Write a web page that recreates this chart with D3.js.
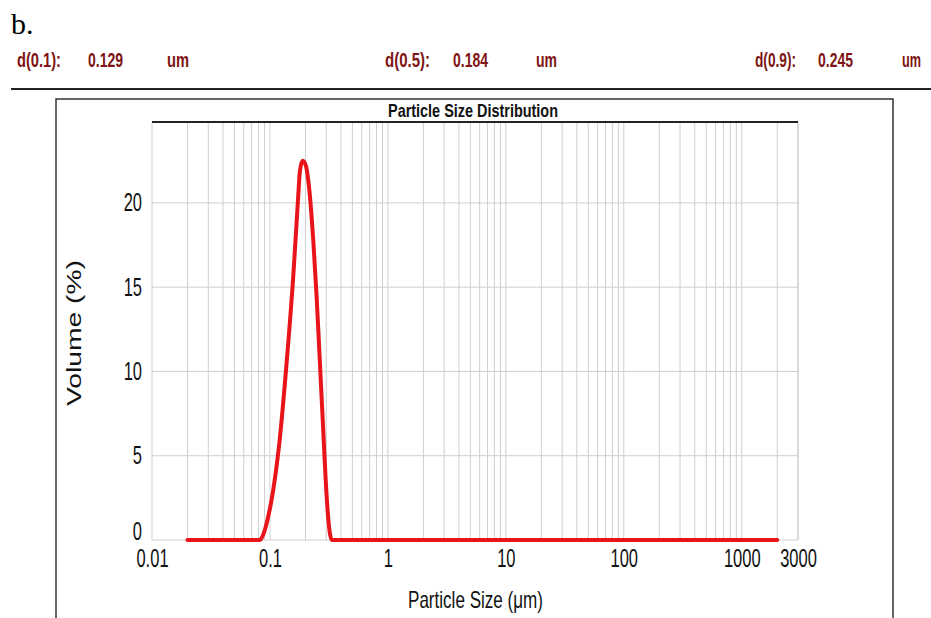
<!DOCTYPE html>
<html>
<head>
<meta charset="utf-8">
<script src="https://cdn.jsdelivr.net/npm/d3@7"></script>
<style>
  html, body { margin: 0; padding: 0; background: #fff; }
  svg { display: block; }
  text { font-family: "Liberation Sans", Arial, sans-serif; }
</style>
</head>
<body>
<svg id="chart" width="931" height="618"></svg>
<script>
// ---- data ----
const sizes   = [0.02, 0.0823, 0.0875, 0.0938, 0.1066, 0.1216, 0.1384, 0.1575, 0.1737, 0.1796, 0.1893, 0.2018, 0.2113, 0.2329, 0.2489, 0.2653, 0.2831, 0.3025, 0.3222, 0.335, 2000];
const volumes = [0,    0,      0.3,    1.0,    2.97,   6.1,    10.5,   15.6,   20.4,   21.9,   22.5,   22.2,   21.35,  17.8,   14.4,   10.5,   6.5,    2.6,    0.4,    0,     0];
const xTicks = [0.01, 0.1, 1, 10, 100, 1000, 3000];
const xTickLabels = ["0.01", "0.1", "1", "10", "100", "1000", "3000"];
const yTicks = [0, 5, 10, 15, 20];
const headerLabels = ["d(0.1):", "d(0.5):", "d(0.9):"];
const headerValues = ["0.129", "0.184", "0.245"];
const headerUnit = "um";
const panelLabel = "b.";
const title = "Particle Size Distribution";
const xTitle = "Particle Size (μm)";
const yTitle = "Volume (%)";

// ---- layout ----
const svg = d3.select("#chart");
const L = 152, R = 798, T = 122, B = 540;
const x = d3.scaleLog().domain([0.01, 3000]).range([L, R]);
const y = d3.scaleLinear().domain([0, 24.8]).range([B, T]);
const hdrColor = "#7e1414";

// panel label
svg.append("text").attr("x", 11).attr("y", 34)
  .style("font-family", "'Liberation Serif', 'Times New Roman', serif")
  .style("font-size", "30px").attr("fill", "#000").text(panelLabel);

// header row
const hdrPos = [
  {lx: 17, lw: 44, vx: 88, vw: 35, ux: 167, uw: 22},
  {lx: 385, lw: 45, vx: 453, vw: 35, ux: 536, uw: 21},
  {lx: 755, lw: 41, vx: 818, vw: 35, ux: 902, uw: 19}
];
hdrPos.forEach((p, i) => {
  const items = [[p.lx, p.lw, headerLabels[i]], [p.vx, p.vw, headerValues[i]], [p.ux, p.uw, headerUnit]];
  items.forEach(([xx, w, t]) => {
    svg.append("text").attr("x", xx).attr("y", 67)
      .attr("textLength", w).attr("lengthAdjust", "spacingAndGlyphs")
      .style("font-size", "20px").style("font-weight", "bold")
      .attr("fill", hdrColor).text(t);
  });
});
svg.append("line").attr("x1", 11).attr("x2", 931).attr("y1", 89).attr("y2", 89)
  .attr("stroke", "#222").attr("stroke-width", 2);

// outer frame
svg.append("rect").attr("x", 56).attr("y", 99).attr("width", 837).attr("height", 540)
  .attr("fill", "none").attr("stroke", "#333").attr("stroke-width", 1.5);

// grid: vertical
const vgrid = [];
for (let e = -2; e <= 3; e++) for (let m = 1; m <= 9; m++) {
  const v = m * Math.pow(10, e);
  if (v <= 3000) vgrid.push(v);
}
svg.append("g").selectAll("line").data(vgrid).join("line")
  .attr("x1", d => x(d)).attr("x2", d => x(d)).attr("y1", T).attr("y2", B)
  .attr("stroke", "#cfcfcf").attr("stroke-width", 1);
// grid: horizontal
svg.append("g").selectAll("line").data(yTicks).join("line")
  .attr("x1", L).attr("x2", R).attr("y1", d => y(d)).attr("y2", d => y(d))
  .attr("stroke", "#cfcfcf").attr("stroke-width", 1);
// right border
svg.append("line").attr("x1", R).attr("x2", R).attr("y1", T).attr("y2", B)
  .attr("stroke", "#cfcfcf");
// top border thick
svg.append("line").attr("x1", L).attr("x2", R).attr("y1", T).attr("y2", T)
  .attr("stroke", "#222").attr("stroke-width", 2);

// title
svg.append("text").attr("x", 388).attr("y", 117)
  .attr("textLength", 170).attr("lengthAdjust", "spacingAndGlyphs")
  .style("font-size", "19px").style("font-weight", "bold").attr("fill", "#111").text(title);

// axes (tick labels only)
const squeeze = (sel, f) => sel.each(function() {
  const len = this.getComputedTextLength();
  d3.select(this).attr("textLength", len * f).attr("lengthAdjust", "spacingAndGlyphs");
});
const xAxis = svg.append("g").attr("transform", `translate(0,${B})`)
  .call(d3.axisBottom(x).tickValues(xTicks).tickFormat((d, i) => xTickLabels[i]).tickSize(0).tickPadding(9));
xAxis.select(".domain").remove();
xAxis.selectAll("text").style("font-size", "25px").style("font-family", "'Liberation Sans', Arial, sans-serif")
  .attr("fill", "#111").attr("dy", "0.72em").call(squeeze, 0.66);

const yAxis = svg.append("g").attr("transform", `translate(${L},0)`)
  .call(d3.axisLeft(y).tickValues(yTicks).tickFormat(d3.format("d")).tickSize(0).tickPadding(10));
yAxis.select(".domain").remove();
yAxis.selectAll("text").style("font-size", "25px").style("font-family", "'Liberation Sans', Arial, sans-serif")
  .attr("fill", "#111").call(squeeze, 0.66);
yAxis.selectAll(".tick").filter(d => d === 0).select("text").attr("dy", "-0.02em");

// axis titles
svg.append("text").attr("x", 408).attr("y", 608)
  .attr("textLength", 135).attr("lengthAdjust", "spacingAndGlyphs")
  .style("font-size", "24px").attr("fill", "#111").text(xTitle);
svg.append("text").attr("transform", "translate(81,406) rotate(-90)")
  .attr("textLength", 146).attr("lengthAdjust", "spacingAndGlyphs")
  .style("font-size", "21px").attr("fill", "#111").text(yTitle);

// curve
const pts = sizes.map((s, i) => [s, volumes[i]]);
const line = d3.line().x(d => x(d[0])).y(d => y(d[1])).curve(d3.curveMonotoneX);
svg.append("path").datum(pts).attr("d", line)
  .attr("fill", "none").attr("stroke", "#e8141a").attr("stroke-width", 4)
  .attr("stroke-linejoin", "round").attr("stroke-linecap", "round");
</script>
</body>
</html>
